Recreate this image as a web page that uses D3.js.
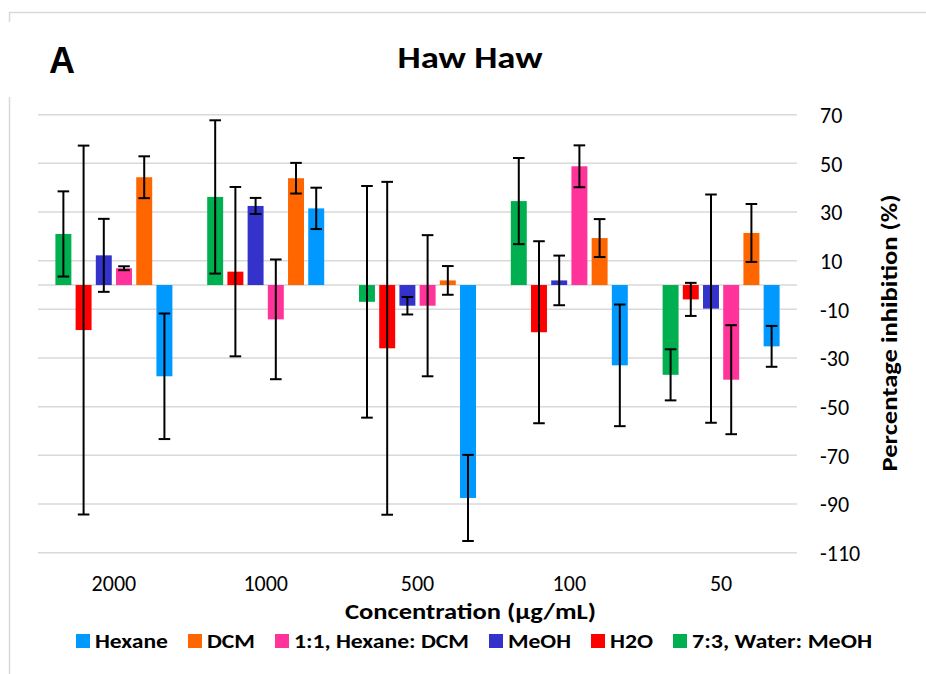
<!DOCTYPE html>
<html>
<head>
<meta charset="utf-8">
<script src="https://cdn.jsdelivr.net/npm/d3@7/dist/d3.min.js"></script>
<style>
  html, body { margin: 0; padding: 0; background: #fff; }
  svg { display: block; }
  text { font-family: Carlito, Calibri, Lato, sans-serif; fill: #000; }
</style>
</head>
<body>
<svg id="chart" width="926" height="674"></svg>
<script>
// ---- data ----
const categories = ["2000", "1000", "500", "100", "50"];
const series = ["7:3, Water: MeOH", "H2O", "MeOH", "1:1, Hexane: DCM", "DCM", "Hexane"];
const legendOrder = ["Hexane", "DCM", "1:1, Hexane: DCM", "MeOH", "H2O", "7:3, Water: MeOH"];

const water73    = [21.0, 36.2, -6.9, 34.5, -36.9];
const h2o        = [-18.5, 5.5, -26.0, -19.4, -5.9];
const meoh       = [12.2, 32.5, -8.5, 1.9, -9.7];
const hexDcm     = [6.9, -14.1, -8.5, 48.8, -38.9];
const dcm        = [44.3, 43.9, 1.9, 19.3, 21.4];
const hexane     = [-37.5, 31.5, -87.5, -33.0, -25.2];

const water73Err = [17.5, 31.5, 47.6, 17.7, 10.5];
const h2oErr     = [75.8, 34.8, 68.4, 37.4, 6.8];
const meohErr    = [15.0, 3.3, 3.6, 10.2, 46.9];
const hexDcmErr  = [0.8, 24.6, 29.0, 8.6, 22.4];
const dcmErr     = [8.6, 6.3, 5.9, 7.8, 11.9];
const hexaneErr  = [25.8, 8.5, 17.7, 25.0, 8.4];

const yTicks = [70, 50, 30, 10, -10, -30, -50, -70, -90, -110];

const values = {
  "7:3, Water: MeOH": water73, "H2O": h2o, "MeOH": meoh,
  "1:1, Hexane: DCM": hexDcm, "DCM": dcm, "Hexane": hexane
};
const errors = {
  "7:3, Water: MeOH": water73Err, "H2O": h2oErr, "MeOH": meohErr,
  "1:1, Hexane: DCM": hexDcmErr, "DCM": dcmErr, "Hexane": hexaneErr
};
const colors = {
  "Hexane": "#0099FF", "DCM": "#FF6600", "1:1, Hexane: DCM": "#FF3399",
  "MeOH": "#3333CC", "H2O": "#FF0000", "7:3, Water: MeOH": "#00B050"
};

// ---- layout ----
const svg = d3.select("#chart");
const plot = { left: 38, right: 797, top: 114.7, bottom: 552.7 };

const x0 = d3.scaleBand().domain(categories).range([plot.left, plot.right]).padding(0);
const clusterW = 117;
const x1 = d3.scaleBand().domain(series).range([0, clusterW]).paddingInner(0.21).paddingOuter(0);
const y = d3.scaleLinear().domain([-110, 70]).range([plot.bottom, plot.top]);

// border
svg.append("path")
  .attr("d", "M9.5,22 V12.5 H926")
  .attr("fill", "none").attr("stroke", "#d9d9d9").attr("stroke-width", 1.5);
svg.append("path")
  .attr("d", "M9.5,97 V674")
  .attr("fill", "none").attr("stroke", "#d9d9d9").attr("stroke-width", 1.5);

// gridlines
const grid = svg.append("g");
grid.selectAll("line").data(yTicks.concat([0])).join("line")
  .attr("x1", plot.left).attr("x2", plot.right)
  .attr("y1", d => y(d)).attr("y2", d => y(d))
  .attr("stroke", "#d9d9d9").attr("stroke-width", 1.5);

// right axis tick labels
const yAxis = d3.axisRight(y).tickValues(yTicks).tickSize(0).tickPadding(0).tickFormat(d => String(d));
const yg = svg.append("g").attr("transform", `translate(820,0)`).call(yAxis);
yg.select(".domain").remove();
yg.selectAll("text").style("font-size", "22px").style("font-family", "Carlito, Calibri, Lato, sans-serif")
  .attr("fill", "#000").attr("dy", "0.35em").attr("x", 0);

// x labels
const xAxis = d3.axisBottom(x0).tickSize(0).tickPadding(0);
const xg = svg.append("g").attr("transform", `translate(0,591)`).call(xAxis);
xg.select(".domain").remove();
xg.selectAll("text").style("font-size", "22px").style("font-family", "Carlito, Calibri, Lato, sans-serif")
  .attr("fill", "#000").attr("dy", 0).attr("y", 0);

// bars
const rows = [];
categories.forEach((c, i) => {
  series.forEach(s => rows.push({ cat: c, s: s, v: values[s][i], e: errors[s][i] }));
});
const bx = d => x0(d.cat) + (x0.bandwidth() - clusterW) / 2 + x1(d.s);

svg.append("g").selectAll("rect").data(rows).join("rect")
  .attr("x", bx)
  .attr("width", x1.bandwidth())
  .attr("y", d => Math.min(y(d.v), y(0)))
  .attr("height", d => Math.abs(y(d.v) - y(0)))
  .attr("fill", d => colors[d.s]);

// error bars
const eb = svg.append("g").attr("stroke", "#000").attr("stroke-width", 2);
const cap = 5.8;
rows.forEach(d => {
  const cx = bx(d) + x1.bandwidth() / 2;
  const yt = y(d.v + d.e), yb = y(d.v - d.e);
  eb.append("line").attr("x1", cx).attr("x2", cx).attr("y1", yt).attr("y2", yb);
  eb.append("line").attr("x1", cx - cap).attr("x2", cx + cap).attr("y1", yt).attr("y2", yt);
  eb.append("line").attr("x1", cx - cap).attr("x2", cx + cap).attr("y1", yb).attr("y2", yb);
});

// titles
svg.append("text").attr("x", 49).attr("y", 73)
  .style("font-family", "Liberation Sans, Arial, sans-serif").style("font-size", "36px").style("font-weight", "bold")
  .text("A");
svg.append("text").attr("x", 470).attr("y", 68).attr("text-anchor", "middle")
  .style("font-size", "30px").style("font-weight", "bold")
  .attr("textLength", 145).attr("lengthAdjust", "spacingAndGlyphs")
  .text("Haw Haw");
svg.append("text").attr("x", 470.5).attr("y", 619).attr("text-anchor", "middle")
  .style("font-size", "22px").style("font-weight", "bold")
  .attr("textLength", 251).attr("lengthAdjust", "spacingAndGlyphs")
  .text("Concentration (µg/mL)");
svg.append("text")
  .attr("transform", "translate(897,333) rotate(-90)")
  .attr("text-anchor", "middle")
  .style("font-size", "22px").style("font-weight", "bold")
  .attr("textLength", 277).attr("lengthAdjust", "spacingAndGlyphs")
  .text("Percentage inhibition (%)");

// legend
const legendWidths = { "Hexane": 73, "DCM": 48, "1:1, Hexane: DCM": 175, "MeOH": 63, "H2O": 43, "7:3, Water: MeOH": 180 };
const lg = svg.append("g");
let lx = 76;
legendOrder.forEach(s => {
  lg.append("rect").attr("x", lx).attr("y", 634).attr("width", 14).attr("height", 14).attr("fill", colors[s]);
  lg.append("text").attr("x", lx + 19).attr("y", 648)
    .style("font-size", "20px").style("font-weight", "bold")
    .attr("textLength", legendWidths[s]).attr("lengthAdjust", "spacingAndGlyphs")
    .text(s);
  lx += 19 + legendWidths[s] + 20;
});
</script>
</body>
</html>
